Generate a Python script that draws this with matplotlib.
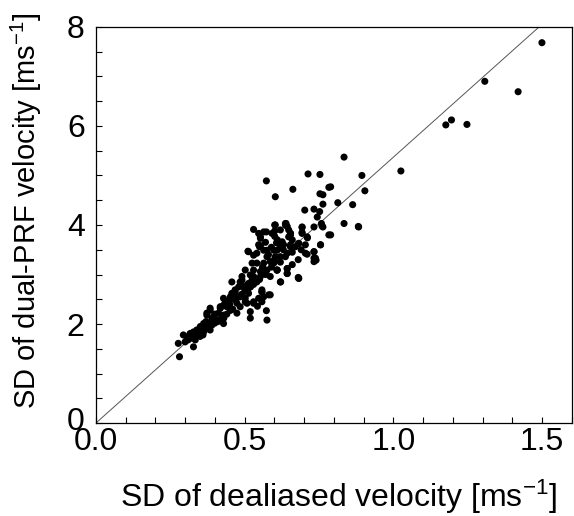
import matplotlib
matplotlib.use("Agg")
import matplotlib.pyplot as plt
import matplotlib.transforms as mtrans
from matplotlib.ticker import MultipleLocator

plt.rcParams['font.family'] = ['Liberation Sans', 'DejaVu Sans']
plt.rcParams['mathtext.fontset'] = 'custom'
plt.rcParams['mathtext.rm'] = 'Liberation Sans'
plt.rcParams['mathtext.it'] = 'Liberation Sans:italic'
plt.rcParams['mathtext.bf'] = 'Liberation Sans:bold'

# SD of dealiased velocity (x) vs SD of dual-PRF velocity (y), m/s
sd_dealiased = [
    1.499, 1.307, 1.419, 1.176, 1.195, 1.247, 1.025,
    0.834, 0.894, 0.904, 0.813, 0.863, 0.834, 0.883, 0.789, 0.789,
    0.713, 0.753, 0.573, 0.662, 0.753, 0.763, 0.603, 0.763,
    0.702, 0.733, 0.752, 0.744, 0.693, 0.733, 0.758, 0.763,
    0.693, 0.711, 0.755, 0.733, 0.710, 0.733, 0.740, 0.681, 0.621,
    0.643, 0.643, 0.609, 0.581, 0.558, 0.530, 0.573, 0.553, 0.553,
    0.601, 0.601, 0.601, 0.639, 0.643, 0.654, 0.648, 0.626, 0.631, 0.620, 0.654, 0.670, 0.680,
    0.607, 0.637, 0.648, 0.654,
    0.550, 0.511, 0.530, 0.564, 0.575, 0.586, 0.609, 0.620, 0.598, 0.609,
    0.680, 0.541, 0.530, 0.519, 0.553, 0.541, 0.525, 0.508, 0.558, 0.564, 0.573,
    0.491, 0.480, 0.468, 0.457, 0.463, 0.513, 0.502, 0.508, 0.530, 0.519, 0.543,
    0.429, 0.429, 0.446, 0.440, 0.452, 0.474, 0.485, 0.474, 0.418, 0.412, 0.429,
    0.384, 0.373, 0.395, 0.407, 0.429, 0.384, 0.362, 0.351, 0.339, 0.362, 0.384,
    0.328, 0.317, 0.317, 0.334, 0.306, 0.300, 0.294, 0.277, 0.281, 0.328,
    0.553, 0.547, 0.513, 0.541, 0.575, 0.525, 0.564, 0.502, 0.553, 0.575,
    0.491, 0.530, 0.457, 0.485, 0.513, 0.558, 0.468, 0.452, 0.485, 0.502,
    0.435, 0.418, 0.452, 0.384, 0.373, 0.575, 0.519, 0.547, 0.558, 0.530, 0.547, 0.564,
    0.592, 0.654, 0.693, 0.783, 0.626, 0.654, 0.682, 0.704, 0.710, 0.755,
    0.598, 0.643, 0.704, 0.733, 0.738, 0.733, 0.603, 0.637, 0.609, 0.643,
    0.643, 0.586, 0.682, 0.620, 0.586,
    0.783, 0.603, 0.637, 0.693, 0.760, 0.882,
    0.320, 0.335, 0.345, 0.355, 0.370, 0.380, 0.390, 0.400, 0.410, 0.420,
    0.430, 0.350, 0.360, 0.310, 0.370, 0.390, 0.400, 0.440, 0.450, 0.460,
    0.470, 0.490, 0.500, 0.510, 0.520, 0.530, 0.490, 0.470, 0.450,
    0.580, 0.590, 0.610, 0.620, 0.570, 0.600, 0.630, 0.660, 0.660, 0.690,
    0.620, 0.590, 0.570, 0.550, 0.560, 0.660, 0.680,
]
sd_dual_prf = [
    7.68, 6.90, 6.69, 6.02, 6.12, 6.03, 5.09,
    5.37, 5.00, 4.69, 4.45, 4.41, 4.03, 3.96, 4.77, 3.80,
    5.03, 5.02, 4.89, 4.72, 4.63, 4.61, 4.57, 4.42,
    4.30, 4.32, 4.27, 4.16, 3.96, 3.96, 4.03, 3.96,
    3.85, 3.74, 3.60, 3.46, 3.41, 3.33, 3.29, 2.93, 2.85,
    3.12, 3.02, 3.09, 2.59, 2.65, 3.91, 3.86, 3.73, 3.58,
    4.00, 3.88, 3.77, 4.03, 3.97, 3.80, 3.76, 3.66, 3.60, 3.56, 3.56, 3.56, 3.62,
    3.64, 4.03, 3.90, 3.83,
    3.56, 3.47, 3.39, 3.49, 3.36, 3.26, 3.49, 3.36, 3.23, 3.09,
    2.94, 3.23, 3.09, 2.99, 2.96, 2.85, 2.89, 2.79, 2.69, 2.55, 2.27,
    2.89, 2.75, 2.69, 2.62, 2.52, 2.62, 2.52, 2.42, 2.42, 2.25, 2.36,
    2.52, 2.38, 2.45, 2.35, 2.28, 2.42, 2.35, 2.22, 2.35, 2.22, 2.18,
    2.32, 2.22, 2.15, 2.08, 2.01, 2.01, 2.01, 1.95, 1.88, 1.84, 1.88,
    1.84, 1.81, 1.71, 1.68, 1.74, 1.64, 1.78, 1.61, 1.34, 1.54,
    3.76, 3.60, 3.46, 3.43, 3.49, 3.23, 3.23, 3.09, 3.06, 3.09,
    2.96, 2.96, 2.85, 2.85, 2.82, 2.65, 2.65, 2.55, 2.55, 2.45,
    2.45, 2.32, 2.28, 2.28, 2.18, 2.08, 2.12, 2.52, 2.45, 2.45, 3.83, 3.86,
    3.83, 3.83, 3.83, 3.80, 3.63, 3.60, 3.63, 3.60, 3.76, 3.60,
    3.49, 3.43, 3.43, 3.46, 3.33, 3.26, 3.36, 3.36, 3.09, 3.12,
    3.02, 2.96, 2.92, 2.85, 2.59,
    4.76, 4.00, 4.00, 3.95, 3.98, 3.97,
    1.75, 1.79, 1.82, 1.86, 1.90, 1.95, 1.98, 2.02, 2.05, 2.10,
    2.12, 1.75, 1.78, 1.68, 2.05, 2.10, 2.20, 2.20, 2.40, 2.30,
    2.48, 2.60, 2.70, 2.68, 2.75, 2.80, 2.78, 2.58, 2.50,
    3.40, 3.55, 3.70, 3.90, 3.65, 3.30, 3.50, 3.70, 3.45, 3.50,
    3.25, 3.15, 3.00, 2.90, 3.15, 3.20, 3.30,
]

fit_slope = 5.37
line_x = [0.0, 1.6]

fig = plt.figure(figsize=(5.74, 5.16), dpi=100)
ax = fig.add_axes([0.167, 0.180, 0.8295, 0.768])

ax.plot(line_x, [fit_slope * v for v in line_x], color='#555555', lw=0.7, zorder=1)
ax.scatter(sd_dealiased, sd_dual_prf, s=26, color='black', edgecolors='none', zorder=2)

ax.set_xlim(0, 1.6)
ax.set_ylim(0, 8)
ax.set_xticks([0.0, 0.5, 1.0, 1.5])
ax.set_xticklabels(['0.0', '0.5', '1.0', '1.5'])
ax.set_yticks([0, 2, 4, 6, 8])
ax.xaxis.set_minor_locator(MultipleLocator(0.1))
ax.yaxis.set_minor_locator(MultipleLocator(0.5))
ax.tick_params(which='both', direction='in', length=4, width=0.8, labelsize=23)
ax.tick_params(axis='x', pad=3)
ax.tick_params(axis='y', pad=8)
for sp in ax.spines.values():
    sp.set_linewidth(0.9)

ax.set_xlabel('SD of dealiased velocity [ms$^{-1}$]', fontsize=23)
ax.xaxis.set_label_coords(0.51, -0.137)
ax.set_ylabel('SD of dual-PRF velocity [ms$^{-1}$]', fontsize=21)
ax.yaxis.set_label_coords(-0.108, 0.535)

# nudge the y "0" label up slightly so it does not collide with "0.0"
fig.canvas.draw()
ylab0 = ax.get_yticklabels()[0]
ylab0.set_transform(ylab0.get_transform() +
                    mtrans.ScaledTranslation(0, 3 / 72, fig.dpi_scale_trans))

fig.savefig('out.png', dpi=100)
